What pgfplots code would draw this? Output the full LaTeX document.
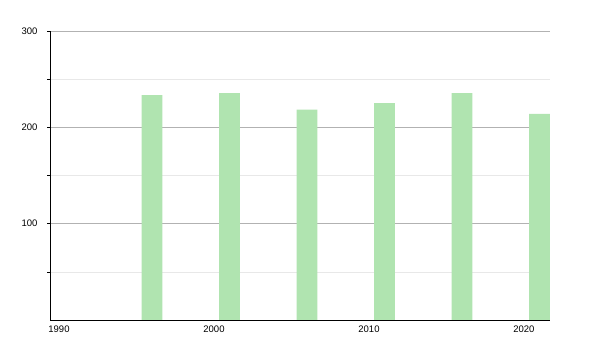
\documentclass[border=0pt]{standalone}
\usepackage{pgfplots}
\pgfplotsset{compat=1.18}
\usepackage{fontspec}
\setmainfont{Liberation Sans}
\definecolor{barg}{RGB}{176,228,176}
\definecolor{gmaj}{RGB}{178,178,178}
\definecolor{gmin}{RGB}{232,232,232}
\begin{document}
\begin{tikzpicture}[x=1pt,y=1pt]
\useasboundingbox[fill=white] (0,0) rectangle (600,350);
\begin{axis}[
  at={(50pt,30pt)}, anchor=south west,
  width=500pt, height=289pt, scale only axis,
  xmin=1989.42, xmax=2021.68, ymin=0, ymax=300,
  axis x line*=bottom, axis y line*=left,
  axis line style={black, line width=0.8pt, -},
  xtick={1990,2000,2010,2020},
  ytick={100,200,300},
  minor ytick={50,150,250},
  ymajorgrids, yminorgrids,
  major grid style={gmaj, line width=0.6pt},
  minor grid style={gmin, line width=0.6pt},
  x tick style={draw=none},
  y tick style={black, line width=0.6pt},
  tick align=outside,
  major tick length=3pt, minor tick length=3pt,
  tick label style={font=\fontsize{9.5}{11}\selectfont},
  /pgf/number format/assume math mode=true,
  /pgf/number format/1000 sep={},
  xticklabel style={yshift=1pt},
  yticklabel style={xshift=-6pt},
  clip=true,
]
\addplot[ybar, bar width=1.35, fill=barg, draw=none] coordinates {
  (1996,233.5) (2001,235.5) (2006,218.5) (2011,225) (2016,235.5) (2021,214)
};
\end{axis}
\end{tikzpicture}
\end{document}
